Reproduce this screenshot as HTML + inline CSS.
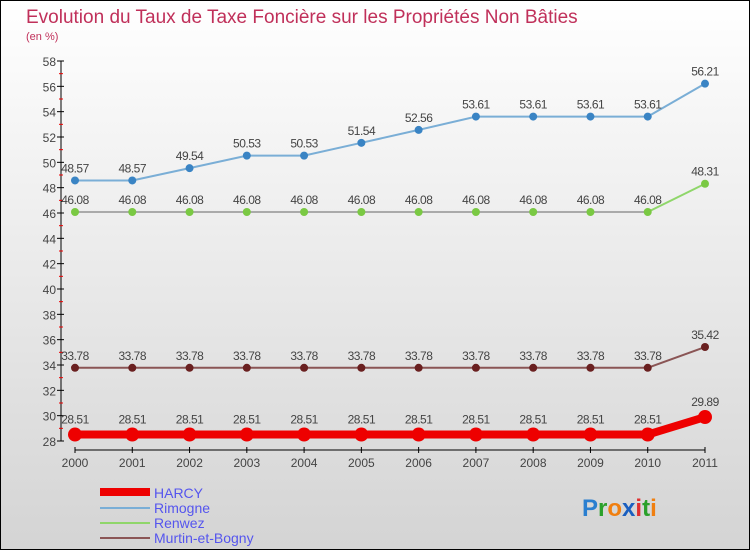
<!DOCTYPE html>
<html><head><meta charset="utf-8"><style>
body{margin:0}
svg{display:block;font-family:"Liberation Sans",sans-serif}
</style></head><body>
<svg id="c" width="750" height="550">
<defs><linearGradient id="bg" x1="0" y1="0" x2="0" y2="1"><stop offset="0" stop-color="#ffffff"/><stop offset="1" stop-color="#d4d4d4"/></linearGradient></defs>
<rect x="0.5" y="0.5" width="749" height="549" fill="url(#bg)" stroke="#000"/>
<text x="26" y="23" font-size="19" fill="#c0305a">Evolution du Taux de Taxe Foncière sur les Propriétés Non Bâties</text>
<text x="26" y="40" font-size="11" fill="#c0305a">(en %)</text>
<g id="axes"></g><g id="series"></g>
<g>
<rect x="100" y="488" width="50" height="8" fill="#e00"/>
<text x="154" y="498" font-size="14" fill="#5555ee">HARCY</text>
<rect x="100" y="507" width="50" height="2" fill="#7aaed6"/>
<text x="154" y="513" font-size="14" fill="#5555ee">Rimogne</text>
<rect x="100" y="522" width="50" height="2" fill="#8fd66a"/>
<text x="154" y="528" font-size="14" fill="#5555ee">Renwez</text>
<rect x="100" y="537" width="50" height="2" fill="#8a5555"/>
<text x="154" y="543" font-size="14" fill="#5555ee">Murtin-et-Bogny</text>
</g>
<text x="582" y="516" font-size="24" font-weight="bold"><tspan fill="#2a7fd0">P</tspan><tspan fill="#2aa02a">r</tspan><tspan fill="#f07f10">o</tspan><tspan fill="#1a5fc0">x</tspan><tspan fill="#e03030">i</tspan><tspan fill="#2aa02a">t</tspan><tspan fill="#f07f10">i</tspan></text>
</svg>
<script>
const years=["2000","2001","2002","2003","2004","2005","2006","2007","2008","2009","2010","2011"];
const harcy=[28.51,28.51,28.51,28.51,28.51,28.51,28.51,28.51,28.51,28.51,28.51,29.89];
const rimogne=[48.57,48.57,49.54,50.53,50.53,51.54,52.56,53.61,53.61,53.61,53.61,56.21];
const renwez=[46.08,46.08,46.08,46.08,46.08,46.08,46.08,46.08,46.08,46.08,46.08,48.31];
const murtin=[33.78,33.78,33.78,33.78,33.78,33.78,33.78,33.78,33.78,33.78,33.78,35.42];
const yTicks=[28,30,32,34,36,38,40,42,44,46,48,50,52,54,56,58];
const NS="http://www.w3.org/2000/svg";
const X=i=>75+i*(630/11), Y=v=>441-(v-28)*(380/30);
function mk(t,a,p){const e=document.createElementNS(NS,t);for(const k in a)e.setAttribute(k,a[k]);p.appendChild(e);return e;}
const ax=document.getElementById('axes');
let l=mk('line',{x1:61,y1:61,x2:61,y2:441,stroke:'#000'},ax);

yTicks.forEach(v=>{
 const t=mk('line',{x1:57,y1:Y(v),x2:64,y2:Y(v),stroke:'#000'},ax);
 
 if(v<58){const m=mk('line',{x1:59,y1:Y(v+1),x2:63,y2:Y(v+1),stroke:'#e00'},ax);
 }
 const tx=mk('text',{x:56,y:Y(v)+5,'font-size':12,'text-anchor':'end',fill:'#444'},ax);tx.textContent=v;
 
});
l=mk('line',{x1:75,y1:450,x2:705,y2:450,stroke:'#000'},ax);

years.forEach((y,i)=>{
 const t=mk('line',{x1:X(i),y1:447,x2:X(i),y2:453,stroke:'#000'},ax);
 
 const tx=mk('text',{x:X(i),y:467,'font-size':12,'text-anchor':'middle',fill:'#444'},ax);tx.textContent=y;
 
});
const sg=document.getElementById('series');
function series(vals,name,line,line2,dot,w,r){
 const g=mk('g',{},sg);
 
 const n=vals.length;
 const p=mk('polyline',{points:vals.slice(0,n-1).map((v,i)=>X(i)+','+Y(v)).join(' '),fill:'none',stroke:line,'stroke-width':w},g);
 
 const p2=mk('line',{x1:X(n-2),y1:Y(vals[n-2]),x2:X(n-1),y2:Y(vals[n-1]),stroke:line2,'stroke-width':w},g);
 
 vals.forEach((v,i)=>{
  const c=mk('circle',{cx:X(i),cy:Y(v),r:r,fill:dot},g);
  
  const tx=mk('text',{x:X(i),y:Y(v)-8-(r>5?3:0),'font-size':12,'text-anchor':'middle',fill:'#444','letter-spacing':'-0.5'},g);
  tx.textContent=v.toFixed(2);
  
 });
}
series(rimogne,'rimogne','#7aaed6','#7aaed6','#3a84c4',2,4);
series(renwez,'renwez','#aaaaaa','#8fd66a','#7ac943',2,4);
series(murtin,'murtin-et-bogny','#8a5555','#8a5555','#6a2020',2,4);
series(harcy,'harcy','#ee0000','#ee0000','#ee0000',8,7);
</script>
</body></html>
